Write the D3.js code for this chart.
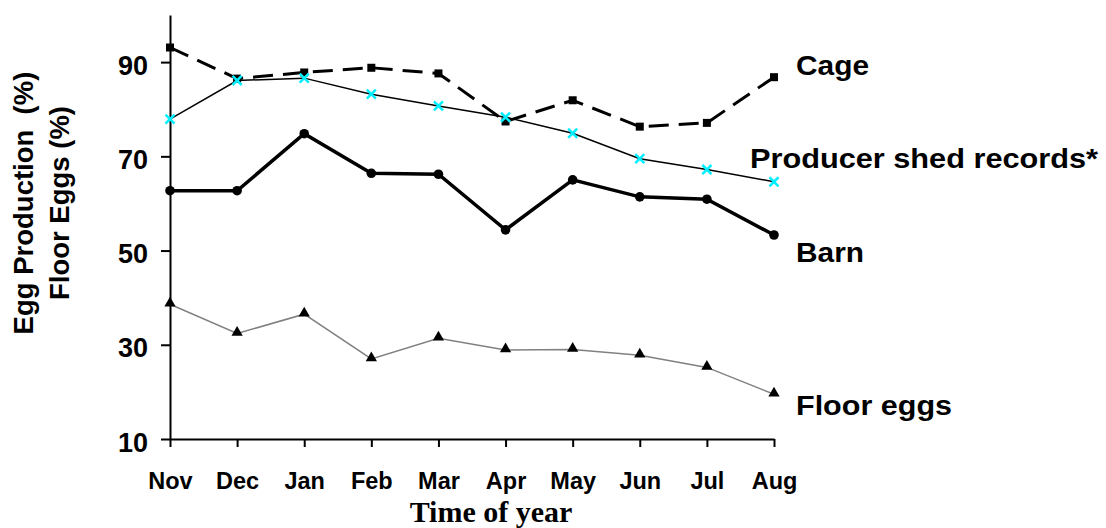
<!DOCTYPE html>
<html><head><meta charset="utf-8">
<script src="https://cdn.jsdelivr.net/npm/d3@7"></script>
<style>
html,body{margin:0;padding:0;background:#fff;}
text{font-family:"Liberation Sans",Arial,sans-serif;font-weight:bold;fill:#000;}
</style></head>
<body><svg id="c" width="1106" height="528"></svg>
<script>
const months = ["Nov","Dec","Jan","Feb","Mar","Apr","May","Jun","Jul","Aug"];
const cage = [93.1,86.5,87.8,88.8,87.6,77.4,81.9,76.3,77.1,86.8];
const producer = [77.9,86.1,86.6,83.2,80.7,78.3,74.9,69.5,67.2,64.6];
const barn = [62.7,62.7,74.8,66.4,66.2,54.4,65.0,61.4,60.9,53.3];
const floorEggs = [38.6,32.4,36.5,27.0,31.4,28.9,29.0,27.8,25.2,19.5];
const yTicks = [10,30,50,70,90];
const seriesLabels = ["Cage","Producer shed records*","Barn","Floor eggs"];

const svg = d3.select("#c");
const x = d3.scalePoint().domain(months).range([170,774]);
const y = d3.scaleLinear().domain([10,100]).range([439,15]);

// axes
const yAx = svg.append("g").attr("transform","translate(170,0)")
  .call(d3.axisLeft(y).tickValues(yTicks).tickSize(9).tickPadding(13).tickSizeOuter(0));
yAx.attr("font-size",null).attr("font-family",null);
yAx.select(".domain").attr("stroke","#000").attr("stroke-width",2);
yAx.selectAll(".tick line").attr("stroke","#000").attr("stroke-width",2);
yAx.selectAll(".tick text").style("font-size","27px").attr("dy","0.45em");

const xAx = svg.append("g").attr("transform","translate(0,439)")
  .call(d3.axisBottom(x).tickSize(8).tickPadding(25).tickSizeOuter(0));
xAx.attr("font-size",null).attr("font-family",null);
xAx.select(".domain").attr("stroke","#000").attr("stroke-width",2);
xAx.selectAll(".tick line").attr("stroke","#000").attr("stroke-width",2);
xAx.selectAll(".tick text").style("font-size","23.5px");

const line = d3.line().x((d,i)=>x(months[i])).y(d=>y(d));

// Cage
svg.append("path").datum(cage).attr("d",line).attr("fill","none")
  .attr("stroke","#000").attr("stroke-width",3).attr("stroke-dasharray","20,10");
svg.append("g").selectAll("rect").data(cage).join("rect")
  .attr("x",(d,i)=>x(months[i])-4).attr("y",d=>y(d)-4).attr("width",8).attr("height",8).attr("fill","#000");

// Barn
svg.append("path").datum(barn).attr("d",line).attr("fill","none")
  .attr("stroke","#000").attr("stroke-width",3.5);
svg.append("g").selectAll("circle").data(barn).join("circle")
  .attr("cx",(d,i)=>x(months[i])).attr("cy",d=>y(d)).attr("r",4.8).attr("fill","#000");

// Floor eggs
svg.append("path").datum(floorEggs).attr("d",line).attr("fill","none")
  .attr("stroke","#808080").attr("stroke-width",1.5);
const tri = d3.symbol().type(d3.symbolTriangle).size(55);
svg.append("g").selectAll("path").data(floorEggs).join("path")
  .attr("d",tri).attr("transform",(d,i)=>`translate(${x(months[i])},${y(d)-1})`).attr("fill","#000");

// Producer
svg.append("path").datum(producer).attr("d",line).attr("fill","none")
  .attr("stroke","#000").attr("stroke-width",1.5);
const cross = d3.symbol().type(d3.symbolX).size(55);
svg.append("g").selectAll("path").data(producer).join("path")
  .attr("d",cross).attr("transform",(d,i)=>`translate(${x(months[i])},${y(d)})`)
  .attr("fill","none").attr("stroke","#00f0ff").attr("stroke-width",2.5);

// Series labels
const labPos = [[796,75],[750,168],[796,262],[796,415]];
svg.append("g").selectAll("text").data(seriesLabels).join("text")
  .attr("x",(d,i)=>labPos[i][0]).attr("y",(d,i)=>labPos[i][1])
  .style("font-size","28px").attr("textLength",(d,i)=>[73,348,68,156][i])
  .attr("lengthAdjust","spacingAndGlyphs").text(d=>d);

// Axis titles
const yt = svg.append("text").attr("transform","translate(0,203) rotate(-90)")
  .attr("text-anchor","middle").style("font-size","27.5px");
yt.append("tspan").attr("x",0).attr("y",33).text("Egg Production\u00a0\u00a0(%)");
yt.append("tspan").attr("x",0).attr("y",69).text("Floor Eggs (%)");

svg.append("text").attr("x",491).attr("y",522).attr("text-anchor","middle")
  .style("font-family","'Liberation Serif','Times New Roman',serif").style("font-size","30px")
  .text("Time of year");
</script></body></html>
